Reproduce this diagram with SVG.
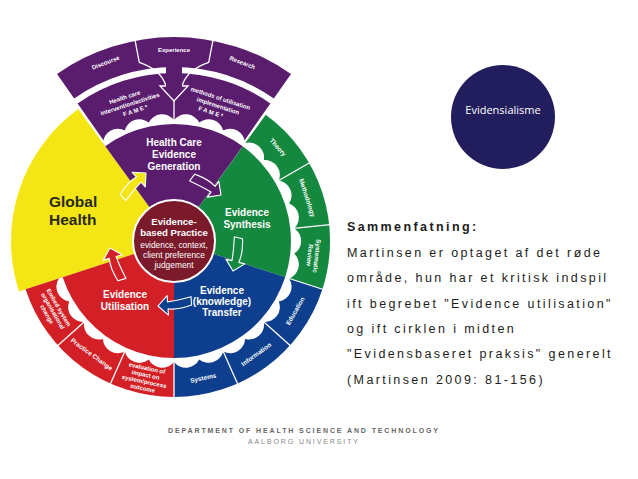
<svg xmlns="http://www.w3.org/2000/svg" width="638" height="479" viewBox="0 0 638 479">
<defs>
<style>
.lab{font-family:"Liberation Sans",Arial,sans-serif;font-weight:bold;fill:#fff;text-anchor:middle}
.big{font-size:10px}
.ring{font-size:6.4px}
.tier{font-size:6px}
.sep{stroke:#fff;stroke-width:1.3;fill:none}
.body{font-family:"Liberation Sans",Arial,sans-serif;font-size:12.5px;letter-spacing:2.4px;fill:#1c1c1c}
.arrow{stroke:#fff;stroke-width:0.8;stroke-linejoin:round}
</style>
<path id="arr" d="M-24,-1 Q-14,-4 -7,-2.5 L-7,-7 L0,0 L-7,7 L-7,2.5 Q-14,3 -24,5 Z"/>
</defs>
<rect width="638" height="479" fill="#fff"/>

<g id="global-health">
<path d="M174,241 L19,291.4 A163,163 0 0 1 78.2,109.1 Z" fill="#f4e614"/>
<text x="49" y="207" font-family="Liberation Sans, Arial, sans-serif" font-weight="bold" font-size="15.5" fill="#2a2a1c">Global</text>
<text x="49" y="225" font-family="Liberation Sans, Arial, sans-serif" font-weight="bold" font-size="15.5" fill="#2a2a1c">Health</text>
</g>

<g id="evidence-synthesis">
<path d="M174,241 L265.7,114.8 A156,156 0 0 1 322.4,289.2 Z" fill="#14883f"/>
<text class="lab big" x="247" y="216">Evidence</text>
<text class="lab big" x="247" y="228">Synthesis</text>
</g>

<g id="evidence-transfer">
<path d="M174,241 L322.4,289.2 A156,156 0 0 1 174,397 Z" fill="#0d3f8e"/>
<text class="lab big" x="222" y="294">Evidence</text>
<text class="lab big" x="222" y="305">(knowledge)</text>
<text class="lab big" x="222" y="316">Transfer</text>
</g>

<g id="evidence-utilisation">
<path d="M174,241 L174,397 A156,156 0 0 1 25.6,289.2 Z" fill="#d31f26"/>
<text class="lab big" x="125" y="298">Evidence</text>
<text class="lab big" x="125" y="310">Utilisation</text>
</g>

<g id="evidence-generation">
<path d="M174,241 L102.9,143.1 A121,121 0 0 1 245.1,143.1 Z" fill="#5a1d6e"/>
<text class="lab big" x="174" y="146">Health Care</text>
<text class="lab big" x="174" y="158">Evidence</text>
<text class="lab big" x="174" y="170">Generation</text>
</g>

<g id="fame-tier">
<path d="M77.6,103.4 A168,168 0 0 1 270.4,103.4 L243.4,141.9 A121,121 0 0 0 104.6,141.9 Z" fill="#5a1d6e"/>
</g>

<g id="source-tier">
<path d="M57,73.9 A204,204 0 0 1 291,73.9 L273.8,98.5 A174,174 0 0 0 74.2,98.5 Z" fill="#5a1d6e"/>
</g>

<g id="separators">
<path d="M102.9,143.1 A15,15 0 0 1 124.8,130.5 A15,15 0 0 1 148.8,122.6 A15,15 0 0 1 174,120 A15,15 0 0 1 199.2,122.6 A15,15 0 0 1 223.2,130.5 A15,15 0 0 1 245.1,143.1 A15,15 0 0 1 263.9,160 A15,15 0 0 1 278.8,180.5 A15,15 0 0 1 289.1,203.6 A15,15 0 0 1 294.3,228.4 A15,15 0 0 1 294.3,253.6 A15,15 0 0 1 289.1,278.4 A15,15 0 0 1 278.8,301.5 A15,15 0 0 1 263.9,322 A15,15 0 0 1 245.1,338.9 A15,15 0 0 1 223.2,351.5 A15,15 0 0 1 199.2,359.4 A15,15 0 0 1 174,362 A15,15 0 0 1 148.8,359.4 A15,15 0 0 1 124.8,351.5 A15,15 0 0 1 102.9,338.9 A15,15 0 0 1 84.1,322 A15,15 0 0 1 69.2,301.5 A15,15 0 0 1 58.9,278.4 L62.7,277.2 A117,117 0 1 0 105.2,146.3 Z" fill="#fff"/>
<path class="sep" d="M276.2,182 L310,162.5 M291.4,228.7 L330.1,224.6 M286.2,277.5 L323.3,289.5 M261.7,320 L290.7,346 M222,348.8 L237.9,384.4 M174,359 L174,398 M126,348.8 L110.1,384.4 M86.3,320 L57.3,346"/>
<path class="sep" d="M135.1,40.7 L139.3,62.3 C150,66 162,72 166,86 M212.9,40.7 L208.7,62.3 C198,66 186,72 182,86 M174,101 L174,121"/>
</g>

<g id="source-labels">
<text class="lab tier" transform="translate(105.6,62.7) rotate(-21)" y="2">Discourse</text>
<text class="lab tier" transform="translate(174,50)" y="2">Experience</text>
<text class="lab tier" transform="translate(242.4,62.7) rotate(21)" y="2">Research</text>
</g>

<g id="fame-labels">
<text class="lab tier" transform="translate(130,104) rotate(-18)"><tspan x="-3" y="-6">Health care</tspan><tspan x="0" y="2">intervention/activities</tspan><tspan x="3" y="10">F A M E *</tspan></text>
<text class="lab tier" transform="translate(218,106) rotate(18)"><tspan x="0" y="-6">methods of utilisation</tspan><tspan x="0" y="2">implementation</tspan><tspan x="-5" y="10">F A M E *</tspan></text>
</g>

<g id="ring-theory"><text class="lab ring" transform="translate(278,147.3) rotate(48)" y="2.2">Theory</text></g>
<g id="ring-methodology"><text class="lab ring" transform="translate(307.2,197.7) rotate(72)" y="2.2">Methodology</text></g>
<g id="ring-systematic-review"><text class="lab ring" transform="translate(313.2,255.6) rotate(96)"><tspan x="0" y="-1.5">Systematic</tspan><tspan x="0" y="5.7">Review</tspan></text></g>
<g id="ring-education"><text class="lab ring" transform="translate(295.2,311) rotate(-60)" y="2.2">Education</text></g>
<g id="ring-information"><text class="lab ring" transform="translate(256.3,354.3) rotate(-36)" y="2.2">Information</text></g>
<g id="ring-systems"><text class="lab ring" transform="translate(203.1,378) rotate(-12)" y="2.2">Systems</text></g>
<g id="ring-evaluation"><text class="lab" font-size="6" transform="translate(144.9,378) rotate(12)"><tspan x="0" y="-8">evaluation of</tspan><tspan x="0" y="-1.2">impact on</tspan><tspan x="0" y="5.6">system/process</tspan><tspan x="0" y="12.4">outcome</tspan></text></g>
<g id="ring-practice-change"><text class="lab ring" transform="translate(91.7,354.3) rotate(36)" y="2.2">Practice Change</text></g>
<g id="ring-embed"><text class="lab" font-size="6" transform="translate(52.8,311) rotate(60)"><tspan x="0" y="-4.8">Embed system</tspan><tspan x="0" y="2">organisational</tspan><tspan x="0" y="8.8">change</tspan></text></g>

<g id="evidence-based-practice">
<circle cx="174" cy="241" r="41" fill="#7a1a2b" stroke="#fff" stroke-width="2"/>
<text class="lab" font-size="9.6" x="174" y="225">Evidence-</text>
<text class="lab" font-size="9.6" x="174" y="236">based Practice</text>
<text x="174" y="248" font-family="Liberation Sans, Arial, sans-serif" font-size="8.4" fill="#fff" text-anchor="middle">evidence, context,</text>
<text x="174" y="258" font-family="Liberation Sans, Arial, sans-serif" font-size="8.4" fill="#fff" text-anchor="middle">client preference</text>
<text x="174" y="268" font-family="Liberation Sans, Arial, sans-serif" font-size="8.4" fill="#fff" text-anchor="middle">judgement</text>
</g>

<g id="connectors">
<use href="#arr" transform="translate(146,173) rotate(-42) scale(1.4)" fill="#f4e614" class="arrow"/>
<use href="#arr" transform="translate(221,195) rotate(36) scale(1.4)" fill="#5a1d6e" class="arrow"/>
<use href="#arr" transform="translate(233,271) rotate(104) scale(1.4)" fill="#14883f" class="arrow"/>
<use href="#arr" transform="translate(158,306) rotate(176) scale(1.4)" fill="#0d3f8e" class="arrow"/>
<use href="#arr" transform="translate(110,248) rotate(-106) scale(1.4)" fill="#d31f26" class="arrow"/>
<path d="M166,62 L166,86 L160,86 L174,101 L188,86 L182,86 L182,62 Z" fill="#5a1d6e"/>
<path class="sep" d="M166,86 L160,86 L174,101 L188,86 L182,86"/>
</g>

<g id="evidensialisme">
<circle cx="503" cy="117" r="52" fill="#221d5c"/>
<text x="503" y="114" font-family="Open Sans, Liberation Sans, sans-serif" font-size="11" fill="#fff" text-anchor="middle">Evidensialisme</text>
</g>

<g id="summary">
<text class="body" x="347" y="231" font-weight="bold" letter-spacing="2.5">Sammenfatning:</text>
<text class="body" x="347" y="257">Martinsen er optaget af det røde</text>
<text class="body" x="347" y="282">område, hun har et kritisk indspil</text>
<text class="body" x="347" y="308">ift begrebet "Evidence utilisation"</text>
<text class="body" x="347" y="333">og ift cirklen i midten</text>
<text class="body" x="347" y="358">"Evidensbaseret praksis" generelt</text>
<text class="body" x="347" y="384">(Martinsen 2009: 81-156)</text>
</g>

<g id="footer">
<text x="168" y="433" font-family="Liberation Sans, Arial, sans-serif" font-weight="bold" font-size="7" fill="#666" textLength="270" lengthAdjust="spacing">DEPARTMENT OF HEALTH SCIENCE AND TECHNOLOGY</text>
<text x="248" y="444" font-family="Liberation Sans, Arial, sans-serif" font-size="7" fill="#888" textLength="110" lengthAdjust="spacing">AALBORG UNIVERSITY</text>
</g>
</svg>
